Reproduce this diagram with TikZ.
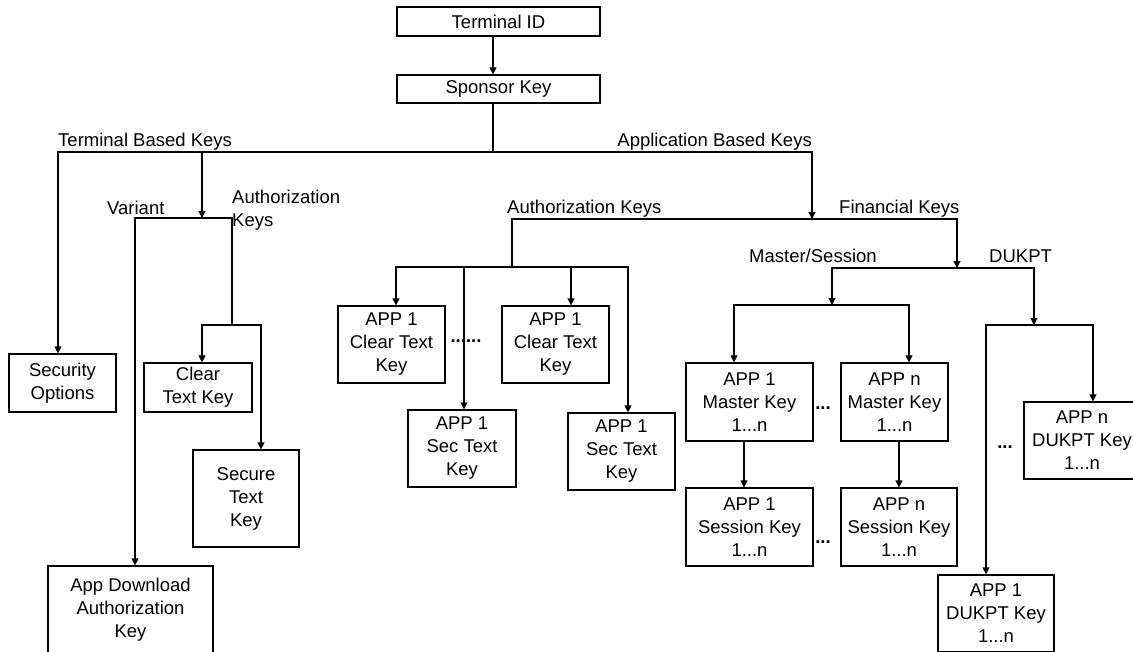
\documentclass[tikz,border=0pt]{standalone}
\usepackage{fontspec}
\setmainfont{Liberation Sans}
\usetikzlibrary{arrows.meta}

\tikzset{
  keybox/.style={draw=black, align=center, inner sep=0pt, line width=1.2pt},
  lbl/.style={inner sep=0pt},
  wire/.style={line width=1.2pt, line cap=rect},
  arr/.style={wire, -{Triangle[length=7pt,width=7pt]}},
  dots/.style={inner sep=0pt, font=\fontsize{18.5}{23}\selectfont\bfseries}
}

\begin{document}
\begin{tikzpicture}[x=1pt, y=-1pt, every node/.style={font=\fontsize{18.5}{23}\selectfont}]
    \path[use as bounding box, fill=white] (0,0) rectangle (1133,651);
    \clip (0,0) rectangle (1133,651);

    % key boxes
    \node[keybox, minimum width=203pt, minimum height=29pt] (tid) at (498.5,21.5) {Terminal ID};
    \node[keybox, minimum width=203pt, minimum height=28pt] (spk) at (498.5,89) {Sponsor Key};
    \node[keybox, minimum width=107pt, minimum height=58pt] (secopt) at (62.5,383) {Security\\Options};
    \node[keybox, minimum width=165pt, minimum height=88pt] (appdl) at (130.5,610) {App Download\\Authorization\\Key};
    \node[keybox, minimum width=108pt, minimum height=49pt] (cleartk) at (198,387.5) {Clear\\Text Key};
    \node[keybox, minimum width=106pt, minimum height=97pt] (securetk) at (246,498.5) {Secure\\Text\\Key};
    \node[keybox, minimum width=107pt, minimum height=77pt] (acl) at (391.5,344.5) {APP 1\\Clear Text\\Key};
    \node[keybox, minimum width=107pt, minimum height=77pt] (acr) at (555.5,344.5) {APP 1\\Clear Text\\Key};
    \node[keybox, minimum width=108pt, minimum height=77pt] (asl) at (462,448.5) {APP 1\\Sec Text\\Key};
    \node[keybox, minimum width=107pt, minimum height=77pt] (asr) at (621.5,451.5) {APP 1\\Sec Text\\Key};
    \node[keybox, minimum width=127pt, minimum height=78pt] (mk1) at (749.5,402) {APP 1\\Master Key\\1...n};
    \node[keybox, minimum width=107pt, minimum height=78pt] (mkn) at (894.5,402) {APP n\\Master Key\\1...n};
    \node[keybox, minimum width=127pt, minimum height=78pt] (sk1) at (749.5,527) {APP 1\\Session Key\\1...n};
    \node[keybox, minimum width=116pt, minimum height=78pt] (skn) at (899,527) {APP n\\Session Key\\1...n};
    \node[keybox, minimum width=116pt, minimum height=77pt] (dkn) at (1082,440.5) {APP n\\DUKPT Key\\1...n};
    \node[keybox, minimum width=116pt, minimum height=77pt] (dk1) at (996,613.5) {APP 1\\DUKPT Key\\1...n};

    % branch labels
    \node[lbl, anchor=base west] (tbklbl) at (58,146) {Terminal Based Keys};
    \node[lbl, anchor=base east] (abklbl) at (812,146) {Application Based Keys};
    \node[lbl, anchor=base west] (varlbl) at (107,214) {Variant};
    \node[lbl, anchor=north west, align=left] (tauklbl) at (232,190) {Authorization\\Keys};
    \node[lbl, anchor=base west] (aaklbl) at (507,213) {Authorization Keys};
    \node[lbl, anchor=base west] (fklbl) at (839,213) {Financial Keys};
    \node[lbl, anchor=base west] (mslbl) at (749,262) {Master/Session};
    \node[lbl, anchor=base west] (dulbl) at (989,262) {DUKPT};

    % dots
    \node[dots] (acdots) at (466,341) {......};
    \node[dots] (mkdots) at (823,408) {...};
    \node[dots] (skdots) at (823,542) {...};
    \node[dots] (dkdots) at (1005,447) {...};

    % junctions
    \coordinate (sp0) at (493,152);
    \coordinate (tb0) at (58,152);
    \coordinate (tb1) at (202,152);
    \coordinate (ab0) at (812,152);
    \coordinate (va0) at (135,218);
    \coordinate (ta0) at (232,218);
    \coordinate (ta1) at (232,325);
    \coordinate (ct0) at (202,325);
    \coordinate (st0) at (261,325);
    \coordinate (aa0) at (512,219);
    \coordinate (ab1) at (812,219);
    \coordinate (fk0) at (957,219);
    \coordinate (aa1) at (512,267);
    \coordinate (ac1) at (396,267);
    \coordinate (as1) at (464,267);
    \coordinate (ac2) at (571,267);
    \coordinate (as2) at (628,267);
    \coordinate (fk1) at (957,268);
    \coordinate (ms0) at (832,268);
    \coordinate (du0) at (1034,268);
    \coordinate (ms1) at (832,305);
    \coordinate (mk1x) at (734,305);
    \coordinate (mknx) at (909,305);
    \coordinate (du1) at (1034,325);
    \coordinate (dk1x) at (986,325);
    \coordinate (dknx) at (1093,325);
    \coordinate (sk1x) at (744,0);
    \coordinate (sknx) at (899,0);

    % terminal based keys
    \draw[arr] (tid.south -| sp0) -- (spk.north -| sp0);
    \draw[wire] (spk.south -| sp0) -- (sp0);
    \draw[wire] (tb0) -- (ab0);
    \draw[arr] (tb0) -- (tb0 |- secopt.north);
    \draw[arr] (tb1) -- (tb1 |- va0);
    \draw[wire] (va0) -- (ta0) -- (ta1);
    \draw[arr] (va0) -- (va0 |- appdl.north);
    \draw[wire] (ct0) -- (st0);
    \draw[arr] (ct0) -- (ct0 |- cleartk.north);
    \draw[arr] (st0) -- (st0 |- securetk.north);

    % application based keys
    \draw[arr] (ab0) -- (ab1);
    \draw[wire] (aa0) -- (fk0);
    \draw[wire] (aa0) -- (aa1);
    \draw[wire] (ac1) -- (as2);
    \foreach \j/\k in {ac1/acl, as1/asl, ac2/acr, as2/asr}
        \draw[arr] (\j) -- (\j |- \k.north);
    \draw[arr] (fk0) -- (fk1);
    \draw[wire] (ms0) -- (du0);
    \draw[arr] (ms0) -- (ms1);
    \draw[wire] (mk1x) -- (mknx);
    \draw[arr] (mk1x) -- (mk1x |- mk1.north);
    \draw[arr] (mknx) -- (mknx |- mkn.north);
    \draw[arr] (mk1.south -| sk1x) -- (sk1.north -| sk1x);
    \draw[arr] (mkn.south -| sknx) -- (skn.north -| sknx);
    \draw[arr] (du0) -- (du1);
    \draw[wire] (dk1x) -- (dknx);
    \draw[arr] (dk1x) -- (dk1x |- dk1.north);
    \draw[arr] (dknx) -- (dknx |- dkn.north);
\end{tikzpicture}
\end{document}
